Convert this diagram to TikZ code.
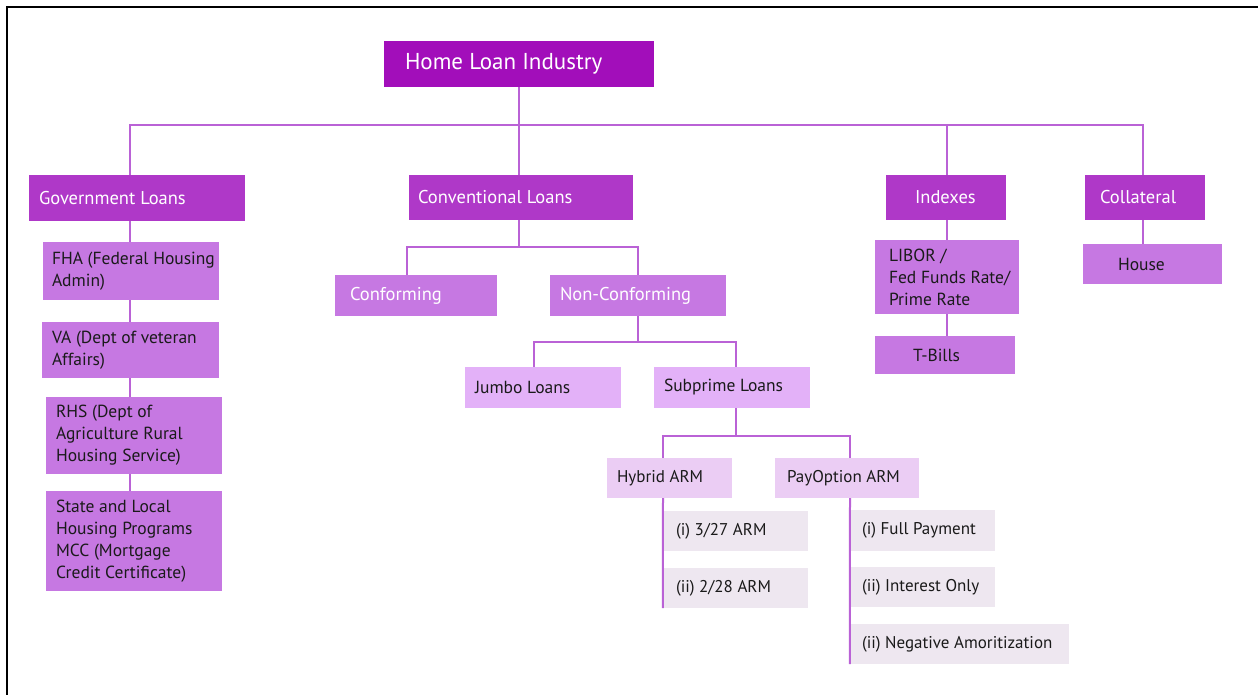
\documentclass[tikz,border=0pt]{standalone}
\usepackage{fontspec}
\setmainfont{PT Sans}
\usetikzlibrary{backgrounds}
\definecolor{chd}{HTML}{A20EBA}
\definecolor{cla}{HTML}{AF38C8}
\definecolor{clb}{HTML}{C678E2}
\definecolor{clc}{HTML}{E3B1F8}
\definecolor{cld}{HTML}{EBCDF4}
\definecolor{cle}{HTML}{EEE7F0}
\definecolor{cline}{HTML}{BA62D6}
\definecolor{cdark}{HTML}{1A1A1A}
\newcommand{\bx}[9]{%
  \node[#2, inner sep=0pt, minimum width={#6-#4}, minimum height={#7-#5}] (#1) at ({(#4+#6)/2},{(#5+#7)/2}) {};
  \node[#3, anchor=west, align=left, inner sep=0pt] (#1t) at ([xshift=#8]#1.west) {#9};}
\begin{document}
\begin{tikzpicture}[x=1pt,y=-1pt,
  hd/.style={fill=chd},
  la/.style={fill=cla},
  lb/.style={fill=clb},
  lc/.style={fill=clc},
  ld/.style={fill=cld},
  le/.style={fill=cle},
  hdt/.style={text=white,font=\fontsize{23}{27}\selectfont},
  wt/.style={text=white,font=\fontsize{18.5}{22}\selectfont},
  dt/.style={text=cdark,font=\fontsize{17.5}{22}\selectfont},
  st/.style={text=cdark,font=\fontsize{17}{21}\selectfont},
  conn/.style={draw=cline,line width=2pt}]
\useasboundingbox (0,0) rectangle (1258,695);
\draw[line width=1.2pt,black] (7,695) -- (7,7) -- (1258,7);

% header and level 1
\bx{home}{hd}{hdt}{384}{41}{654}{87}{21}{Home Loan Industry}
\bx{gov}{la}{wt}{29}{175}{245}{221}{10}{Government Loans}
\bx{conv}{la}{wt}{409}{175}{633}{220}{9}{Conventional Loans}
\bx{idx}{la}{wt}{886}{175}{1006}{220}{29}{Indexes}
\bx{coll}{la}{wt}{1085}{175}{1205}{220}{15}{Collateral}

% government children
\bx{fha}{lb}{dt}{43}{242}{219}{300}{9}{FHA (Federal Housing\\Admin)}
\bx{va}{lb}{dt}{42}{322}{219}{378}{10}{VA (Dept of veteran\\Affairs)}
\bx{rhs}{lb}{dt}{46}{397}{222}{474}{10}{RHS (Dept of\\Agriculture Rural\\Housing Service)}
\bx{state}{lb}{dt}{46}{491}{222}{591}{10}{State and Local\\Housing Programs\\MCC (Mortgage\\Credit Certificate)}

% conventional children
\bx{conf}{lb}{wt}{335}{275}{497}{316}{15}{Conforming}
\bx{ncf}{lb}{wt}{550}{275}{726}{316}{10}{Non-Conforming}
\bx{jumbo}{lc}{dt}{465}{367}{621}{408}{10}{Jumbo Loans}
\bx{sub}{lc}{dt}{654}{367}{810}{408}{10}{Subprime Loans}
\bx{hyb}{ld}{st}{607}{458}{732}{498}{10}{Hybrid ARM}
\bx{pay}{ld}{st}{775}{458}{919}{498}{12}{PayOption ARM}
\bx{ha}{le}{st}{664}{511}{808}{551}{12}{(i) 3/27 ARM}
\bx{hb}{le}{st}{664}{568}{808}{608}{12}{(ii) 2/28 ARM}
\bx{pa}{le}{st}{851}{510}{995}{551}{11}{(i) Full Payment}
\bx{pb}{le}{st}{851}{567}{995}{607}{11}{(ii) Interest Only}
\bx{pc}{le}{st}{851}{624}{1069}{664}{11}{(ii) Negative Amoritization}

% indexes / collateral children
\bx{libor}{lb}{dt}{875}{240}{1019}{314}{14}{LIBOR /\\Fed Funds Rate/\\Prime Rate}
\bx{tb}{lb}{dt}{875}{336}{1015}{374}{38}{T-Bills}
\bx{house}{lb}{dt}{1083}{244}{1222}{284}{35}{House}

\begin{scope}[on background layer]
  \coordinate (b1) at (519,125);
  \draw[conn] (home.south) -- (b1);
  \draw[conn] (b1) -| ([xshift=-7]gov.north);
  \draw[conn] (b1) -| ([xshift=-2]conv.north);
  \draw[conn] (b1) -| ([xshift=1]idx.north);
  \draw[conn] (b1) -| ([xshift=-2]coll.north);
  % government chain
  \draw[conn] ([xshift=-7]gov.south) -- ([xshift=-7]gov.south |- state.north);
  % conventional
  \coordinate (b2) at (519,247);
  \draw[conn] ([xshift=-2]conv.south) -- (b2);
  \draw[conn] (b2) -| ([xshift=-9]conf.north);
  \draw[conn] (b2) -| (ncf.north);
  \coordinate (b3) at (638,342);
  \draw[conn] (ncf.south) -- (b3);
  \draw[conn] (b3) -| ([xshift=-9]jumbo.north);
  \draw[conn] (b3) -| ([xshift=4]sub.north);
  \coordinate (b4) at (736,436);
  \draw[conn] ([xshift=4]sub.south) -- (b4);
  \draw[conn] (b4) -| ([xshift=-6.5]hyb.north);
  \draw[conn] (b4) -| ([xshift=3]pay.north);
  \draw[conn] ([xshift=-6.5]hyb.south) -- ([xshift=-1]hb.south west);
  \draw[conn] ([xshift=3]pay.south) -- ([xshift=-1]pc.south west);
  % indexes
  \draw[conn] ([xshift=1]idx.south) -- ([xshift=1]idx.south |- tb.north);
  % collateral
  \draw[conn] ([xshift=-2]coll.south) -- ([xshift=-2]coll.south |- house.north);
\end{scope}
\end{tikzpicture}
\end{document}
